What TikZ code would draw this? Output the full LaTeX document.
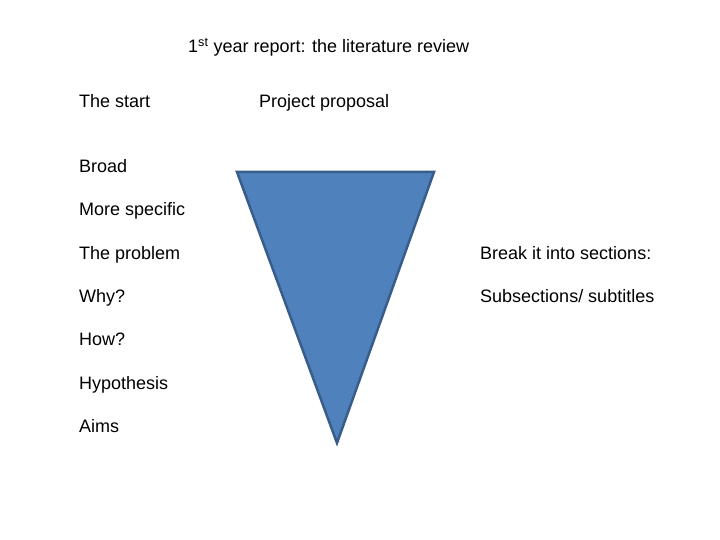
\documentclass[tikz,border=0pt]{standalone}
\usepackage{fontspec}
\setmainfont{Liberation Sans}
\usetikzlibrary{positioning}

\definecolor{funnelfill}{HTML}{4F81BD}
\definecolor{funneledge}{HTML}{385D8A}

\begin{document}
\begin{tikzpicture}[x=1pt, y=-1pt,
            node distance=43.3pt,
            txt/.style={font=\fontsize{18}{21}\selectfont, inner sep=0pt,
                text height=13pt, text depth=0pt, anchor=west}, % every label of the slide
            funnel/.style={fill=funnelfill, draw=funneledge, line width=2.5pt, line join=miter}, % the triangle
        ]
        \useasboundingbox (0,0) rectangle (720,540);

        % heading row
        \node[txt] (title) at (188,46) {1\textsuperscript{st} year report: the literature review};
        \node[txt] (start) at (79,101) {The start};
        \node[txt] (proposal) at (259,101) {Project proposal};

        % left column, from broad to specific
        \node[txt] (broad) at (79,166) {Broad};
        \node[txt, below=of broad.west, anchor=west] (specific) {More specific};
        \node[txt, below=of specific.west, anchor=west] (problem) {The problem};
        \node[txt, below=of problem.west, anchor=west] (why) {Why?};
        \node[txt, below=of why.west, anchor=west] (how) {How?};
        \node[txt, below=of how.west, anchor=west] (hypothesis) {Hypothesis};
        \node[txt, below=of hypothesis.west, anchor=west] (aims) {Aims};

        % right column
        \node[txt] (sections) at (480,253) {Break it into sections:};
        \node[txt, below=of sections.west, anchor=west] (subtitles) {Subsections/ subtitles};

        % the funnel
        \coordinate (topleft) at (237,172);
        \coordinate (topright) at (434,172);
        \coordinate (tip) at (337,443);
        \draw[funnel] (topleft) -- (topright) -- (tip) -- cycle;
    \end{tikzpicture}
\end{document}
